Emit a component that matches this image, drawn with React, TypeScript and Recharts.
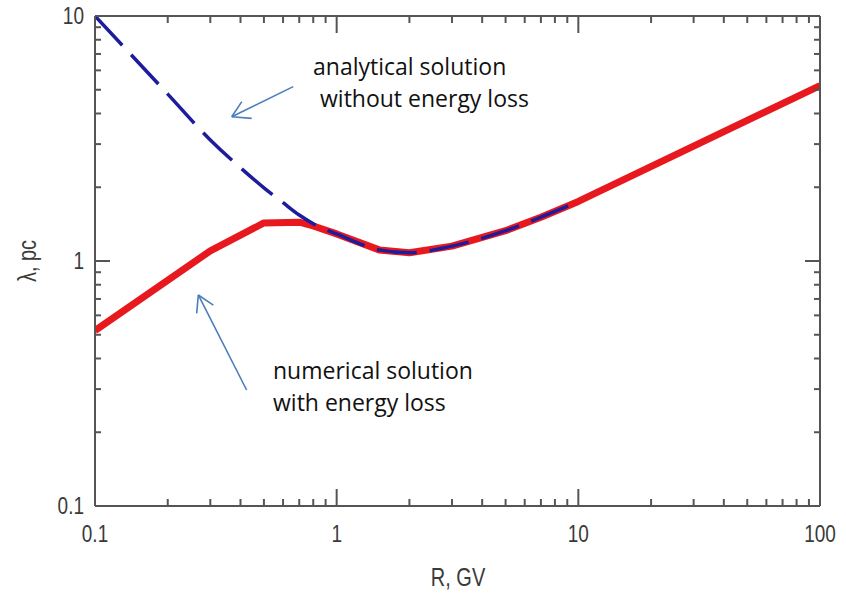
import { LineChart, Line, XAxis, YAxis, ReferenceLine } from "recharts";

// numerical solution (with energy loss)
const numericalR = [0.1, 0.3, 0.5, 0.7, 0.8, 1, 1.5, 2, 3, 5, 7, 10, 100];
const numericalLambda = [0.52, 1.1, 1.43, 1.44, 1.39, 1.29, 1.11, 1.08, 1.15, 1.33, 1.51, 1.75, 5.2];

// analytical solution (without energy loss)
const analyticalR = [0.1, 0.2, 0.3, 0.4, 0.5, 0.6, 0.7, 0.8, 1, 1.5, 2, 3, 5, 7, 10];
const analyticalLambda = [10, 4.8, 3.12, 2.4, 1.99, 1.73, 1.54, 1.42, 1.29, 1.11, 1.08, 1.15, 1.33, 1.51, 1.75];

const xDecades = [0.1, 1, 10];
const yDecades = [0.1, 1];
const mantissas = [1, 2, 3, 4, 5, 6, 7, 8, 9];
const xTicks = [...xDecades.flatMap((d) => mantissas.map((m) => m * d)), 100];
const yTicks = [...yDecades.flatMap((d) => mantissas.map((m) => m * d)), 10];

// annotation arrows, in data coordinates [x1, y1, x2, y2]
const arrowAnalytical = [
  [0.661, 5.15, 0.368, 3.88],
  [0.368, 3.88, 0.405, 4.47],
  [0.368, 3.88, 0.445, 3.82],
];
const arrowNumerical = [
  [0.424, 0.2975, 0.2676, 0.7266],
  [0.2676, 0.7266, 0.2635, 0.6115],
  [0.2676, 0.7266, 0.3087, 0.661],
];

const numericalData = numericalR.map((r, i) => ({ r, lambda: numericalLambda[i] }));
const analyticalData = analyticalR.map((r, i) => ({ r, lambda: analyticalLambda[i] }));

const W = 846;
const H = 606;
const PLOT_LEFT = 95;
const PLOT_RIGHT = 820;
const PLOT_TOP = 16;
const PLOT_BOTTOM = 506;
const AXIS = "#555";
const LABEL = "#3a3a3a";
const TICK_W = 2;
const TICK_FONT = "'Liberation Sans', Arial, sans-serif";
const NOTE_FONT = "'Open Sans', 'Noto Sans', sans-serif";

const isMajor = (v: number) => {
  const l = Math.log10(v);
  return Math.abs(l - Math.round(l)) < 1e-6;
};

// same log mapping as the x axis, used only for the frame's top tick marks
const xPos = (v: number) =>
  PLOT_LEFT + ((Math.log10(v) + 1) / 3) * (PLOT_RIGHT - PLOT_LEFT);

const StretchText = ({ x, y, anchor, children, size = 19, rotate = 0 }: any) => (
  <text
    transform={`translate(${x},${y}) rotate(${rotate}) scale(1,1.25)`}
    textAnchor={anchor}
    dominantBaseline="central"
    fontSize={size}
    fontFamily={TICK_FONT}
    fill={LABEL}
  >
    {children}
  </text>
);

const BottomTick = ({ x, payload }: any) => {
  const major = isMajor(payload.value);
  return (
    <g>
      <line x1={x} x2={x} y1={PLOT_BOTTOM} y2={PLOT_BOTTOM - (major ? 17 : 7)} stroke={AXIS} strokeWidth={TICK_W} />
      {major && (
        <StretchText x={x} y={534} anchor="middle">
          {String(payload.value)}
        </StretchText>
      )}
    </g>
  );
};

const LeftTick = ({ y, payload }: any) => {
  const major = isMajor(payload.value);
  const len = major ? 15 : 6;
  return (
    <g>
      <line x1={PLOT_LEFT} x2={PLOT_LEFT + len} y1={y} y2={y} stroke={AXIS} strokeWidth={TICK_W} />
      <line x1={PLOT_RIGHT} x2={PLOT_RIGHT - len} y1={y} y2={y} stroke={AXIS} strokeWidth={TICK_W} />
      {major && (
        <StretchText x={84} y={y} anchor="end">
          {String(payload.value)}
        </StretchText>
      )}
    </g>
  );
};

const noteStyle = (left: number, centerY: number): React.CSSProperties => ({
  position: "absolute",
  left,
  top: centerY - 16,
  height: 32,
  lineHeight: "32px",
  fontFamily: NOTE_FONT,
  fontSize: 23,
  color: "#111",
  whiteSpace: "nowrap",
});

export default function App() {
  return (
    <div style={{ position: "absolute", left: 0, top: 0, width: W, height: H, background: "#fff" }}>
      <LineChart width={W} height={H} margin={{ top: PLOT_TOP - 10, right: W - PLOT_RIGHT - 10, bottom: 60, left: 35 }}>
        <XAxis
          xAxisId="bottom"
          type="number"
          dataKey="r"
          scale="log"
          domain={[0.1, 100]}
          ticks={xTicks}
          interval={0}
          allowDataOverflow
          height={40}
          tickLine={false}
          axisLine={{ stroke: AXIS, strokeWidth: 2 }}
          tick={<BottomTick />}
          label={() => (
            <StretchText x={458} y={578} anchor="middle" size={20}>
              R, GV
            </StretchText>
          )}
        />
        <XAxis
          xAxisId="top"
          orientation="top"
          type="number"
          dataKey="r"
          scale="log"
          domain={[0.1, 100]}
          allowDataOverflow
          height={10}
          tickLine={false}
          axisLine={{ stroke: AXIS, strokeWidth: 2 }}
          tick={false}
        />
        <YAxis
          yAxisId="left"
          type="number"
          scale="log"
          domain={[0.1, 10]}
          ticks={yTicks}
          interval={0}
          allowDataOverflow
          width={60}
          tickLine={false}
          axisLine={{ stroke: AXIS, strokeWidth: 2 }}
          tick={<LeftTick />}
          label={() => (
            <StretchText x={28} y={261} anchor="middle" size={20} rotate={-90}>
              λ, pc
            </StretchText>
          )}
        />
        <YAxis
          yAxisId="right"
          orientation="right"
          type="number"
          scale="log"
          domain={[0.1, 10]}
          allowDataOverflow
          width={10}
          tickLine={false}
          axisLine={{ stroke: AXIS, strokeWidth: 2 }}
          tick={false}
        />

        {[...arrowAnalytical, ...arrowNumerical].map(([x1, y1, x2, y2], i) => (
          <ReferenceLine
            key={i}
            xAxisId="bottom"
            yAxisId="left"
            segment={[
              { x: x1, y: y1 },
              { x: x2, y: y2 },
            ]}
            stroke="#4a7ebb"
            strokeWidth={1.6}
          />
        ))}

        {/* numerical solution, thick red */}
        <Line
          xAxisId="bottom"
          yAxisId="left"
          data={numericalData}
          dataKey="lambda"
          type="linear"
          stroke="#e8191e"
          strokeWidth={7}
          strokeLinejoin="round"
          dot={false}
          isAnimationActive={false}
        />
        {/* analytical solution, dashed blue */}
        <Line
          xAxisId="bottom"
          yAxisId="left"
          data={analyticalData}
          dataKey="lambda"
          type="monotone"
          stroke="#1c1c9c"
          strokeWidth={3.5}
          strokeDasharray="40 13"
          dot={false}
          isAnimationActive={false}
        />
      </LineChart>

      {/* inward tick marks on the top frame */}
      <svg width={W} height={60} style={{ position: "absolute", left: 0, top: 0, pointerEvents: "none" }}>
        {xTicks.map((v) => (
          <line
            key={v}
            x1={xPos(v)}
            x2={xPos(v)}
            y1={PLOT_TOP}
            y2={PLOT_TOP + (isMajor(v) ? 17 : 7)}
            stroke={AXIS}
            strokeWidth={TICK_W}
          />
        ))}
      </svg>

      <div style={noteStyle(313, 66)}>analytical solution</div>
      <div style={noteStyle(320, 98)}>without energy loss</div>
      <div style={noteStyle(273, 370)}>numerical solution</div>
      <div style={noteStyle(273, 402)}>with energy loss</div>
    </div>
  );
}
